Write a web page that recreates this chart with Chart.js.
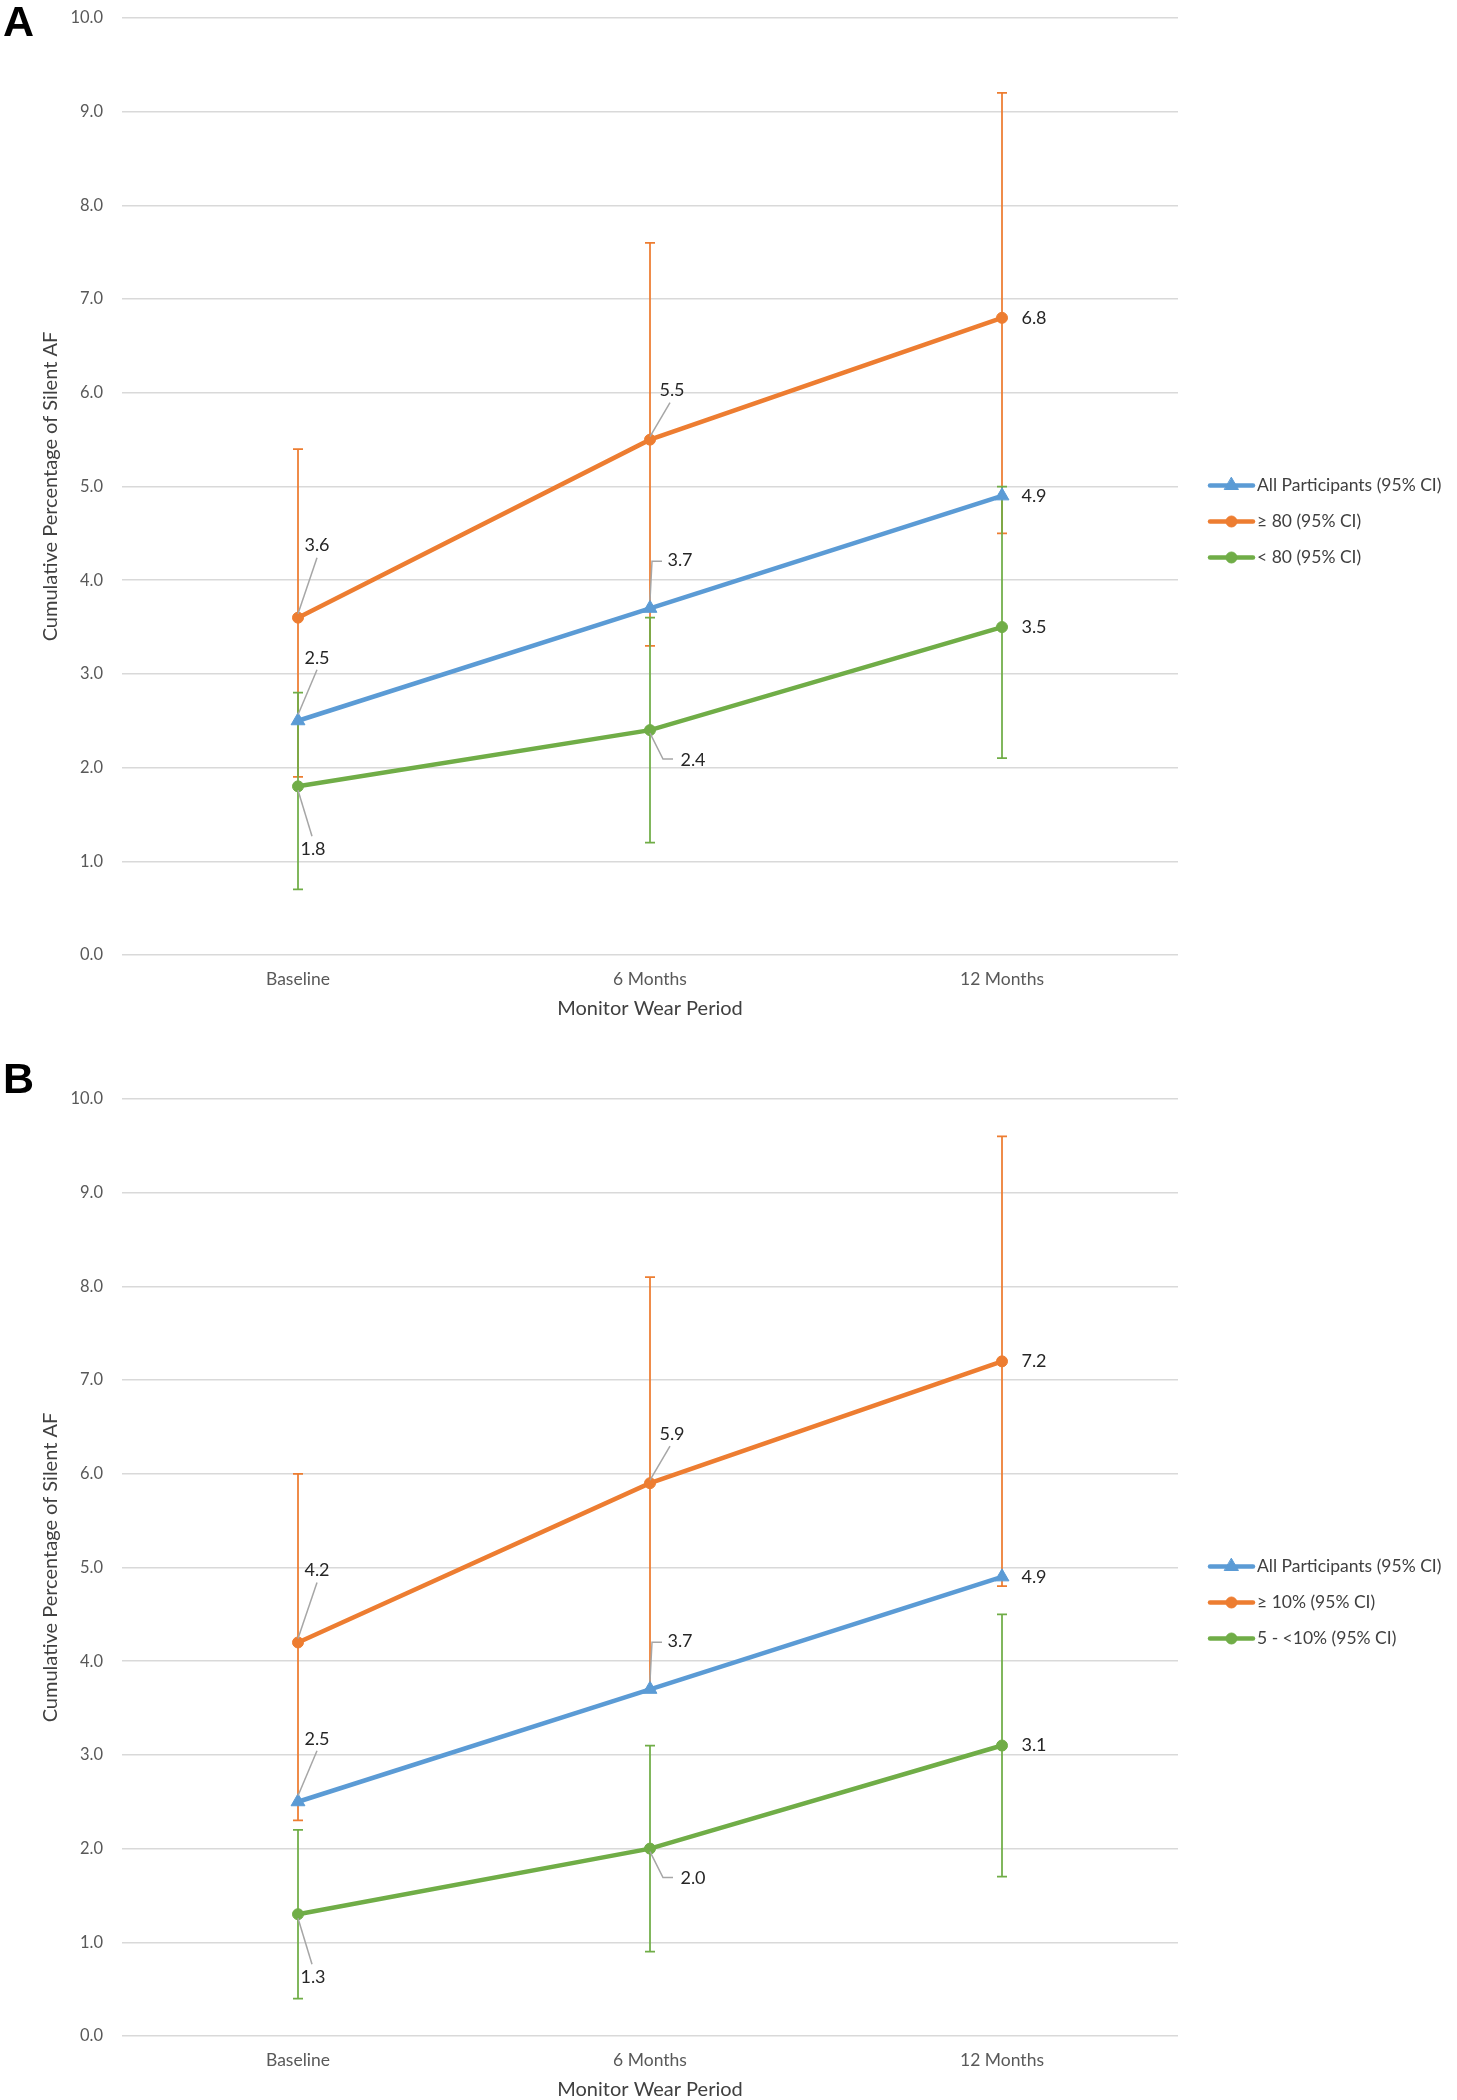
<!DOCTYPE html>
<html>
<head>
<meta charset="utf-8">
<script src="https://cdn.jsdelivr.net/npm/chart.js@4.4.1/dist/chart.umd.min.js"></script>
<style>
  html, body { margin: 0; padding: 0; background: #fff; overflow: hidden; }
  body { width: 1457px; height: 2100px; position: relative; }
  .panel { position: absolute; left: 0; z-index: 1; }
  .tag { position: absolute; z-index: 2; font: bold 43px "Liberation Sans", Arial, sans-serif; line-height: 43px; color: #000; }
</style>
</head>
<body>
<canvas id="chartA" class="panel" width="1457" height="1080" style="top:0px"></canvas>
<canvas id="chartB" class="panel" width="1457" height="1080" style="top:1081px"></canvas>
<div class="tag" style="left:3px;top:0px">A</div>
<div class="tag" style="left:3px;top:1057px">B</div>
<script>
const periods = ['Baseline', '6 Months', '12 Months'];
const yMin = 0, yMax = 10, yStep = 1;

// panel A: by age group
const namesA = ['All Participants (95% CI)', '≥ 80 (95% CI)', '< 80 (95% CI)'];
const allA = [2.5, 3.7, 4.9];
const olderA = [3.6, 5.5, 6.8];
const olderALow = [1.9, 3.3, 4.5];
const olderAHigh = [5.4, 7.6, 9.2];
const youngerA = [1.8, 2.4, 3.5];
const youngerALow = [0.7, 1.2, 2.1];
const youngerAHigh = [2.8, 3.6, 5.0];

// panel B: by risk group
const namesB = ['All Participants (95% CI)', '≥ 10% (95% CI)', '5 - <10% (95% CI)'];
const allB = [2.5, 3.7, 4.9];
const highB = [4.2, 5.9, 7.2];
const highBLow = [2.3, 3.7, 4.8];
const highBHigh = [6.0, 8.1, 9.6];
const midB = [1.3, 2.0, 3.1];
const midBLow = [0.4, 0.9, 1.7];
const midBHigh = [2.2, 3.1, 4.5];

const BLUE = '#5B9BD5', ORANGE = '#ED7D31', GREEN = '#70AD47';

// where each value label sits relative to its point (per series, per period) and its leader line
const labelSpots = [
    [{dx: 19, dy: -63, lead: [[0, -6], [19, -51]]}, {dx: 30, dy: -48, lead: [[0, -8], [2, -47], [12, -47]]}, {dx: 32, dy: 0}],
    [{dx: 19, dy: -72, lead: [[0, -4], [19, -60]]}, {dx: 22, dy: -49, lead: [[0, -3], [20, -37]]}, {dx: 32, dy: 0}],
    [{dx: 15, dy: 63, lead: [[0, 4], [14, 50]]}, {dx: 43, dy: 30, lead: [[0, 3], [13, 29], [23, 29]]}, {dx: 32, dy: 0}]
];

const errorBars = {
    id: 'errorBars',
    beforeDatasetsDraw(chart) {
        const ctx = chart.ctx, y = chart.scales.y;
        chart.data.datasets.forEach((ds, i) => {
            if (!ds.ciLow) return;
            const meta = chart.getDatasetMeta(i);
            ctx.save();
            ctx.strokeStyle = ds.borderColor;
            ctx.lineWidth = 1.75;
            meta.data.forEach((pt, j) => {
                const top = y.getPixelForValue(ds.ciHigh[j]);
                const bot = y.getPixelForValue(ds.ciLow[j]);
                ctx.beginPath();
                ctx.moveTo(pt.x, top); ctx.lineTo(pt.x, bot);
                ctx.moveTo(pt.x - 5, top); ctx.lineTo(pt.x + 5, top);
                ctx.moveTo(pt.x - 5, bot); ctx.lineTo(pt.x + 5, bot);
                ctx.stroke();
            });
            ctx.restore();
        });
    }
};

const dataLabels = {
    id: 'dataLabels',
    afterDatasetsDraw(chart) {
        const ctx = chart.ctx;
        chart.data.datasets.forEach((ds, i) => {
            const meta = chart.getDatasetMeta(i);
            meta.data.forEach((pt, j) => {
                const spot = labelSpots[i][j];
                ctx.save();
                if (spot.lead) {
                    ctx.strokeStyle = '#A6A6A6';
                    ctx.lineWidth = 1.5;
                    ctx.beginPath();
                    spot.lead.forEach(([lx, ly], k) => {
                        if (k === 0) ctx.moveTo(pt.x + lx, pt.y + ly);
                        else ctx.lineTo(pt.x + lx, pt.y + ly);
                    });
                    ctx.stroke();
                }
                ctx.fillStyle = '#262626';
                ctx.font = '18px Lato';
                ctx.textAlign = 'center';
                ctx.textBaseline = 'middle';
                ctx.fillText(ds.data[j].toFixed(1), pt.x + spot.dx, pt.y + spot.dy);
                ctx.restore();
            });
        });
    }
};

const sideLegend = {
    id: 'sideLegend',
    afterDraw(chart) {
        const ctx = chart.ctx, area = chart.chartArea;
        const x0 = area.right + 32;
        const y0 = (area.top + area.bottom) / 2 - 1;
        chart.data.datasets.forEach((ds, i) => {
            const yy = y0 + i * 36;
            ctx.save();
            ctx.strokeStyle = ds.borderColor;
            ctx.fillStyle = ds.backgroundColor;
            ctx.lineWidth = 4.5;
            ctx.lineCap = 'round';
            ctx.beginPath();
            ctx.moveTo(x0, yy); ctx.lineTo(x0 + 43, yy);
            ctx.stroke();
            ctx.lineWidth = 1;
            Chart.helpers.drawPoint(ctx, {pointStyle: ds.pointStyle, radius: ds.pointRadius, borderWidth: 1, rotation: 0}, x0 + 21.5, yy);
            ctx.fillStyle = '#404040';
            ctx.font = '17.5px Lato';
            ctx.textBaseline = 'middle';
            ctx.fillText(ds.label, x0 + 47, yy);
            ctx.restore();
        });
    }
};

function buildPanel(canvasId, names, series) {
    return new Chart(document.getElementById(canvasId), {
        type: 'line',
        data: {
            labels: periods,
            datasets: series.map((s, i) => ({
                label: names[i],
                data: s.values,
                ciLow: s.low,
                ciHigh: s.high,
                borderColor: s.color,
                backgroundColor: s.color,
                borderWidth: 4.5,
                pointStyle: s.style,
                pointRadius: s.style === 'triangle' ? 8 : 5.5,
                pointBorderWidth: 1,
                tension: 0
            }))
        },
        options: {
            responsive: false,
            animation: false,
            devicePixelRatio: 1,
            layout: {padding: {left: 0, top: 18, right: 279, bottom: 0}},
            plugins: {legend: {display: false}, tooltip: {enabled: false}},
            scales: {
                x: {
                    type: 'category',
                    offset: true,
                    grid: {display: false},
                    border: {display: false},
                    ticks: {color: '#595959', font: {family: 'Lato', size: 17.5}, padding: 6},
                    title: {display: true, text: 'Monitor Wear Period', color: '#404040',
                        font: {family: 'Lato', size: 20}, padding: {top: 0, bottom: 59}},
                    afterFit(s) { s.height = 125; s.paddingLeft = 0; s.paddingRight = 0; }
                },
                y: {
                    min: yMin,
                    max: yMax,
                    ticks: {stepSize: yStep, callback: v => v.toFixed(1), color: '#595959',
                        font: {family: 'Lato', size: 16.5}, padding: 19},
                    grid: {color: '#D9D9D9', lineWidth: 1.5, drawTicks: false},
                    border: {display: false},
                    title: {display: true, text: 'Cumulative Percentage of Silent AF', color: '#404040',
                        font: {family: 'Lato', size: 20}, padding: {top: 39, bottom: 0}},
                    afterFit(s) { s.width = 122; s.paddingTop = 0; s.paddingBottom = 0; }
                }
            }
        },
        plugins: [errorBars, dataLabels, sideLegend]
    });
}

function initializeCharts() {
    buildPanel('chartA', namesA, [
        {values: allA, color: BLUE, style: 'triangle'},
        {values: olderA, low: olderALow, high: olderAHigh, color: ORANGE, style: 'circle'},
        {values: youngerA, low: youngerALow, high: youngerAHigh, color: GREEN, style: 'circle'}
    ]);
    buildPanel('chartB', namesB, [
        {values: allB, color: BLUE, style: 'triangle'},
        {values: highB, low: highBLow, high: highBHigh, color: ORANGE, style: 'circle'},
        {values: midB, low: midBLow, high: midBHigh, color: GREEN, style: 'circle'}
    ]);
}

document.fonts.load('16px Lato').then(initializeCharts, initializeCharts);
</script>
</body>
</html>
